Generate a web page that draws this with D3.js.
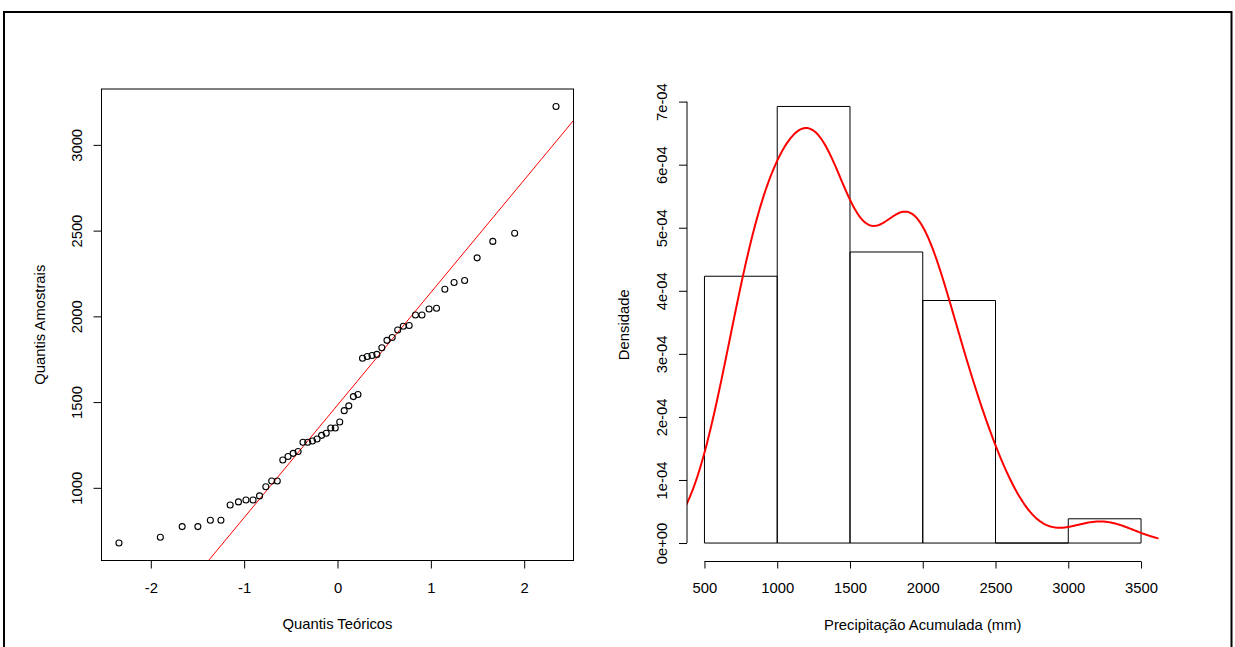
<!DOCTYPE html>
<html>
<head>
<meta charset="utf-8">
<script src="https://cdn.jsdelivr.net/npm/d3@7"></script>
<style>
  html, body { margin: 0; padding: 0; background: #fff; }
  svg { display: block; }
  text { font-family: "Liberation Sans", Arial, sans-serif; font-size: 14.8px; fill: #000; }
</style>
</head>
<body>
<svg id="chart" width="1235" height="647"></svg>
<script>
// ---------- data ----------
const theoreticalQuantiles = [
  -2.341, -1.898, -1.664, -1.496, -1.362, -1.249, -1.150, -1.061, -0.981, -0.905,
  -0.835, -0.768, -0.705, -0.645, -0.586, -0.530, -0.475, -0.422, -0.370, -0.319,
  -0.268, -0.219, -0.170, -0.121, -0.072, -0.024,
   0.024,  0.072,  0.121,  0.170,  0.219,  0.268,  0.319,  0.370,  0.422,  0.475,
   0.530,  0.586,  0.645,  0.705,  0.768,  0.835,  0.905,  0.981,  1.061,  1.150,
   1.249,  1.362,  1.496,  1.664,  1.898,  2.341
];
const sampleValues = [
  678, 712, 774, 774, 811, 811, 900, 918, 929, 929, 953,
  1006, 1040, 1040, 1162, 1183, 1201, 1212, 1266, 1266, 1273, 1285, 1306, 1318, 1349, 1349, 1384, 1450, 1478,
  1532, 1544, 1756, 1766, 1772, 1778, 1817, 1860, 1877, 1920, 1942, 1947,
  2008, 2008, 2043, 2047, 2158, 2197, 2209, 2341, 2437, 2485,
  3224
];
const histBreaks = [500, 1000, 1500, 2000, 2500, 3000, 3500];
const histCounts = [11, 18, 12, 10, 0, 1];
const qqXTicks = [-2, -1, 0, 1, 2];
const qqYTicks = [1000, 1500, 2000, 2500, 3000];
const histXTicks = [500, 1000, 1500, 2000, 2500, 3000, 3500];
const histYTicks = [0, 1e-4, 2e-4, 3e-4, 4e-4, 5e-4, 6e-4, 7e-4];
const histYTickLabels = ["0e+00", "1e-04", "2e-04", "3e-04", "4e-04", "5e-04", "6e-04", "7e-04"];
const labels = {
  qqX: "Quantis Teóricos",
  qqY: "Quantis Amostrais",
  histX: "Precipitação Acumulada (mm)",
  histY: "Densidade"
};

// ---------- layout ----------
const svg = d3.select("#chart");
svg.append("rect").attr("x", 4).attr("y", 12).attr("width", 1227.5).attr("height", 700)
  .attr("fill", "none").attr("stroke", "#000").attr("stroke-width", 2);

const plotTop = 89, plotBottom = 560.5;
const L = { x0: 101.5, x1: 573.5 };
const R = { x0: 687, x1: 1158.5 };
const ext = (a, b) => { const d = (b - a) * 0.04; return [a - d, b + d]; };

// ---------- QQ plot ----------
const qx = d3.scaleLinear().domain(ext(d3.min(theoreticalQuantiles), d3.max(theoreticalQuantiles))).range([L.x0, L.x1]);
const qy = d3.scaleLinear().domain(ext(d3.min(sampleValues), d3.max(sampleValues))).range([plotBottom, plotTop]);

const gL = svg.append("g");
gL.append("clipPath").attr("id", "clipL").append("rect")
  .attr("x", L.x0).attr("y", plotTop).attr("width", L.x1 - L.x0).attr("height", plotBottom - plotTop);

// qqline through the 1st and 3rd quartiles
const q1 = d3.quantile(sampleValues, 0.25), q3 = d3.quantile(sampleValues, 0.75);
const z1 = -0.6744898, z3 = 0.6744898;
const slope = (q3 - q1) / (z3 - z1), intercept = q1 - slope * z1;
const xd = qx.domain();
gL.append("line")
  .attr("clip-path", "url(#clipL)")
  .attr("x1", qx(xd[0])).attr("y1", qy(intercept + slope * xd[0]))
  .attr("x2", qx(xd[1])).attr("y2", qy(intercept + slope * xd[1]))
  .attr("stroke", "#ff0000").attr("stroke-width", 1);

gL.selectAll("circle.pt").data(sampleValues).enter().append("circle")
  .attr("cx", (d, i) => qx(theoreticalQuantiles[i]))
  .attr("cy", d => qy(d))
  .attr("r", 3).attr("fill", "none").attr("stroke", "#000").attr("stroke-width", 1.1);

gL.append("rect").attr("x", L.x0).attr("y", plotTop).attr("width", L.x1 - L.x0).attr("height", plotBottom - plotTop)
  .attr("fill", "none").attr("stroke", "#000").attr("stroke-width", 1);

const axL_x = gL.append("g").attr("transform", `translate(0,${plotBottom})`)
  .call(d3.axisBottom(qx).tickValues(qqXTicks).tickSize(8).tickFormat(d3.format("d")));
axL_x.select(".domain").remove();
axL_x.selectAll("text").attr("y", 27.5).attr("dy", "0.36em")
  .text(d => d < 0 ? "-" + Math.abs(d) : d);

const axL_y = gL.append("g").attr("transform", `translate(${L.x0},0)`)
  .call(d3.axisLeft(qy).tickValues(qqYTicks).tickSize(8).tickFormat(d3.format("d")));
axL_y.select(".domain").remove();
axL_y.selectAll("text").attr("transform", "rotate(-90)").attr("x", 0).attr("y", -25)
  .attr("dy", "0.36em").attr("text-anchor", "middle");

svg.append("text").attr("x", (L.x0 + L.x1) / 2).attr("y", 624).attr("dy", "0.36em")
  .attr("text-anchor", "middle").text(labels.qqX);
svg.append("text").attr("transform", `translate(${L.x0 - 62},${(plotTop + plotBottom) / 2}) rotate(-90)`)
  .attr("dy", "0.36em").attr("text-anchor", "middle").text(labels.qqY);

// ---------- histogram + density ----------
const n = sampleValues.length;
const binW = histBreaks[1] - histBreaks[0];
const histDensity = histCounts.map(c => c / (n * binW));

const hx = d3.scaleLinear().domain(ext(histBreaks[0], histBreaks[histBreaks.length - 1])).range([R.x0, R.x1]);
const hy = d3.scaleLinear().domain(ext(0, d3.max(histDensity))).range([plotBottom, plotTop]);

const gR = svg.append("g");
gR.append("clipPath").attr("id", "clipR").append("rect")
  .attr("x", R.x0).attr("y", plotTop).attr("width", R.x1 - R.x0).attr("height", plotBottom - plotTop);

// bars drawn as closed paths so that an empty bin still shows its base line
gR.selectAll("path.bar").data(histDensity).enter().append("path")
  .attr("class", "bar")
  .attr("d", (d, i) => {
    const x0 = hx(histBreaks[i]), x1 = hx(histBreaks[i + 1]), y0 = hy(0), y1 = hy(d);
    return `M${x0},${y0}L${x0},${y1}L${x1},${y1}L${x1},${y0}Z`;
  })
  .attr("fill", "none").attr("stroke", "#000").attr("stroke-width", 1);

// Gaussian kernel density estimate of the sample (bandwidth rule nrd0)
const sd = d3.deviation(sampleValues);
const iqr = d3.quantile(sampleValues, 0.75) - d3.quantile(sampleValues, 0.25);
const bw = 0.9 * Math.min(sd, iqr / 1.34) * Math.pow(n, -0.2);
const gridFrom = d3.min(sampleValues) - 3 * bw, gridTo = d3.max(sampleValues) + 3 * bw;
const grid = d3.range(512).map(i => gridFrom + (gridTo - gridFrom) * i / 511);
const kde = grid.map(x => [x, d3.sum(sampleValues, v => Math.exp(-0.5 * ((x - v) / bw) ** 2)) / (n * bw * Math.sqrt(2 * Math.PI))]);

gR.append("path").datum(kde)
  .attr("clip-path", "url(#clipR)")
  .attr("d", d3.line().x(d => hx(d[0])).y(d => hy(d[1])))
  .attr("fill", "none").attr("stroke", "#ff0000").attr("stroke-width", 2);

const axR_x = gR.append("g").attr("transform", `translate(0,${plotBottom + 1})`)
  .call(d3.axisBottom(hx).tickValues(histXTicks).tickSize(7).tickFormat(d3.format("d")));
axR_x.select(".domain").remove();
axR_x.append("line").attr("x1", hx(histXTicks[0])).attr("x2", hx(histXTicks[histXTicks.length - 1]))
  .attr("stroke", "#000");
axR_x.selectAll("text").attr("y", 26.5).attr("dy", "0.36em");

const axR_y = gR.append("g").attr("transform", `translate(${R.x0},0)`)
  .call(d3.axisLeft(hy).tickValues(histYTicks).tickSize(8).tickFormat((d, i) => histYTickLabels[i]));
axR_y.select(".domain").remove();
axR_y.append("line").attr("y1", hy(histYTicks[0])).attr("y2", hy(histYTicks[histYTicks.length - 1]))
  .attr("stroke", "#000");
axR_y.selectAll("text").attr("transform", "rotate(-90)").attr("x", 0).attr("y", -25)
  .attr("dy", "0.36em").attr("text-anchor", "middle");

svg.append("text").attr("x", (R.x0 + R.x1) / 2).attr("y", 625).attr("dy", "0.36em")
  .attr("text-anchor", "middle").text(labels.histX);
svg.append("text").attr("transform", `translate(${R.x0 - 63},${(plotTop + plotBottom) / 2}) rotate(-90)`)
  .attr("dy", "0.36em").attr("text-anchor", "middle").text(labels.histY);

svg.selectAll(".tick text").attr("fill", "#000");
svg.selectAll(".tick line").attr("stroke", "#000");
svg.selectAll("g").attr("font-size", null).attr("font-family", null);
</script>
</body>
</html>
